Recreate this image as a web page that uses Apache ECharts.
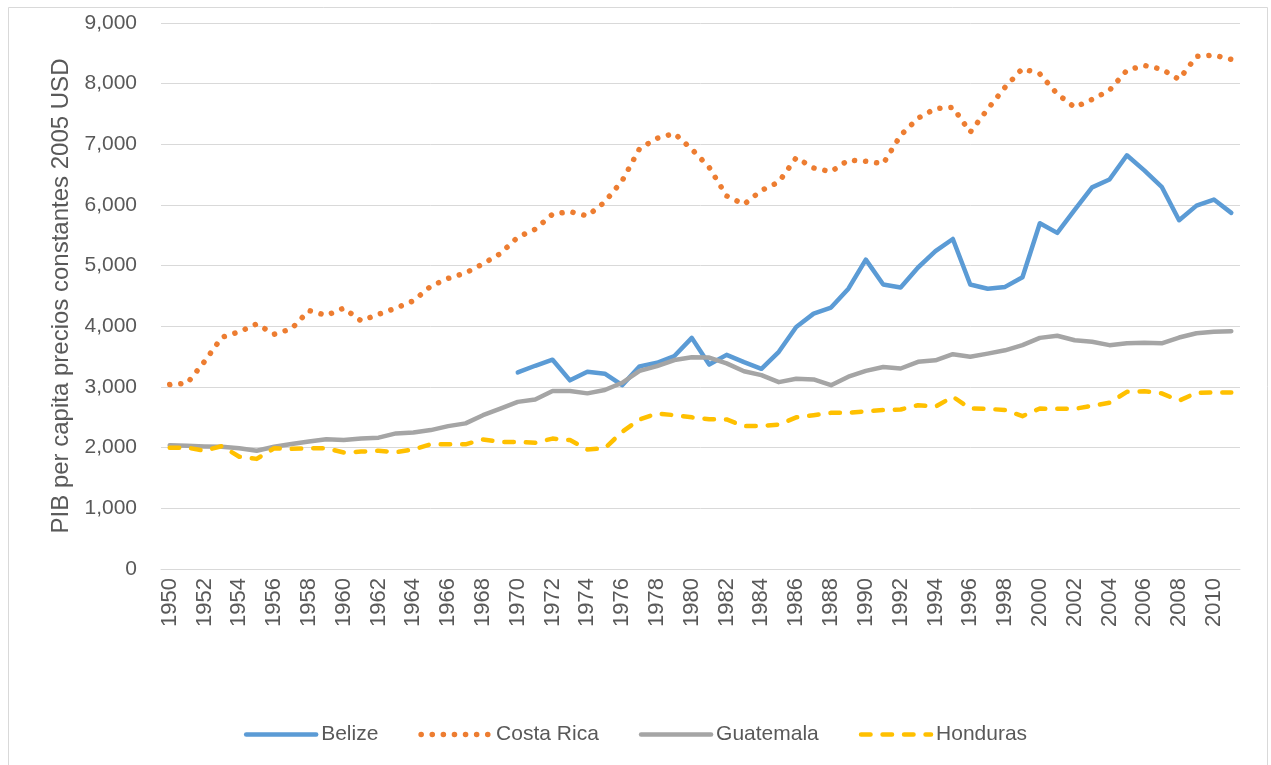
<!DOCTYPE html>
<html>
<head>
<meta charset="utf-8">
<script src="https://cdn.jsdelivr.net/npm/echarts@6/dist/echarts.min.js"></script>
<style>
  html, body { margin: 0; padding: 0; background: #fff; }
  #chart { width: 1271px; height: 765px; }
</style>
</head>
<body>
<div id="chart"></div>
<script>
var years = [];
for (var y = 1950; y <= 2011; y++) years.push(String(y));

// Belize starts in 1970
var belize = [
  null, null, null, null, null, null, null, null, null, null,
  null, null, null, null, null, null, null, null, null, null,
  3240, 3350, 3450, 3110, 3250, 3220, 3030, 3340, 3400, 3510,
  3810, 3370, 3530, 3410, 3300, 3580, 3990, 4210, 4310, 4620,
  5100, 4690, 4640, 4970, 5240, 5440, 4690, 4620, 4650, 4810,
  5700, 5540, 5920, 6290, 6420, 6820, 6570, 6300, 5750, 5990,
  6090, 5870
];
var costaRica = [
  3040, 3060, 3420, 3820, 3910, 4040, 3870, 3960, 4260, 4180,
  4300, 4090, 4200, 4300, 4420, 4660, 4790, 4880, 5030, 5200,
  5470, 5600, 5850, 5890, 5820, 6050, 6400, 6930, 7100, 7180,
  6920, 6620, 6150, 6010, 6240, 6380, 6780, 6610, 6550, 6740,
  6720, 6680, 7150, 7430, 7590, 7610, 7200, 7580, 7940, 8250,
  8160, 7830, 7610, 7740, 7890, 8220, 8300, 8240, 8070, 8450,
  8470, 8400
];
var guatemala = [
  2040, 2030, 2020, 2015, 1990, 1950, 2015, 2060, 2100, 2140,
  2125, 2150, 2165, 2235, 2250, 2290, 2355, 2400, 2535, 2645,
  2755, 2795, 2935, 2935, 2895, 2950, 3070, 3265, 3345, 3445,
  3490, 3485, 3390, 3260, 3195, 3080, 3135, 3125, 3030, 3170,
  3265, 3330, 3305, 3415, 3440, 3540, 3500, 3550, 3605, 3690,
  3810, 3845, 3770, 3745, 3690, 3720, 3730, 3720, 3815, 3885,
  3910, 3920
];
var honduras = [
  2000, 2000, 1950, 2025, 1850, 1815, 1990, 1980, 1990, 1990,
  1920, 1935, 1950, 1925, 1970, 2055, 2055, 2055, 2135, 2095,
  2095, 2080, 2150, 2125, 1970, 1990, 2260, 2465, 2565, 2535,
  2500, 2470, 2465, 2355, 2360, 2380, 2500, 2535, 2575, 2575,
  2600, 2620, 2630, 2700, 2675, 2840, 2645, 2640, 2620, 2520,
  2645, 2640, 2640, 2690, 2740, 2920, 2930, 2895, 2775, 2905,
  2910, 2910
];
var yTicks = [0, 1000, 2000, 3000, 4000, 5000, 6000, 7000, 8000, 9000];

var textColor = '#595959';
var fontFam = '"Liberation Sans", Arial, sans-serif';

var styles = {
  'Belize': { color: '#5b9bd5', type: 'solid', width: 4.5 },
  'Costa Rica': { color: '#ed7d31', type: [0.1, 11], width: 5.5 },
  'Guatemala': { color: '#a5a5a5', type: 'solid', width: 4.5 },
  'Honduras': { color: '#ffc000', type: [9.5, 12], width: 4.5 }
};

var chart = echarts.init(document.getElementById('chart'));

function lineStyleOf(name) {
  var s = styles[name];
  return { color: s.color, width: s.width, type: s.type, cap: 'round', join: 'round' };
}

function lineSeries(name, data) {
  return {
    name: name,
    type: 'line',
    data: data,
    symbol: 'none',
    connectNulls: false,
    lineStyle: lineStyleOf(name),
    itemStyle: { color: styles[name].color },
    emphasis: { disabled: true }
  };
}

var names = ['Belize', 'Costa Rica', 'Guatemala', 'Honduras'];

var option = {
  animation: false,
  backgroundColor: '#fff',
  textStyle: { fontFamily: fontFam },
  graphic: [{
    type: 'rect',
    shape: { x: 8.5, y: 7.5, width: 1259, height: 770 },
    style: { fill: 'none', stroke: '#d9d9d9', lineWidth: 1 },
    silent: true
  }],
  grid: { left: 161, right: 31, top: 23, bottom: 196 },
  legend: {
    left: 'center',
    top: 719,
    itemWidth: 70,
    itemHeight: 6,
    itemGap: 40,
    itemStyle: { opacity: 0 },
    textStyle: { color: textColor, fontSize: 21, fontFamily: fontFam },
    data: names.map(function (n) {
      return { name: n, lineStyle: lineStyleOf(n) };
    })
  },
  xAxis: {
    type: 'category',
    data: years,
    boundaryGap: true,
    axisLine: { show: true, lineStyle: { color: '#d9d9d9', width: 1 } },
    axisTick: { show: false },
    axisLabel: {
      interval: 1,
      rotate: 90,
      color: textColor,
      fontSize: 22,
      margin: 9
    }
  },
  yAxis: {
    type: 'value',
    min: yTicks[0],
    max: yTicks[yTicks.length - 1],
    interval: 1000,
    name: 'PIB per capita precios constantes 2005 USD',
    nameLocation: 'middle',
    nameRotate: 90,
    nameGap: 88,
    nameTextStyle: { color: textColor, fontSize: 24 },
    axisLine: { show: false },
    axisTick: { show: false },
    splitLine: { lineStyle: { color: '#d9d9d9', width: 1 } },
    axisLabel: {
      color: textColor,
      fontSize: 21,
      margin: 24,
      formatter: function (v) { return v.toLocaleString('en-US'); }
    }
  },
  series: names.map(function (n, i) {
    return lineSeries(n, [belize, costaRica, guatemala, honduras][i]);
  })
};

chart.setOption(option);
</script>
</body>
</html>
